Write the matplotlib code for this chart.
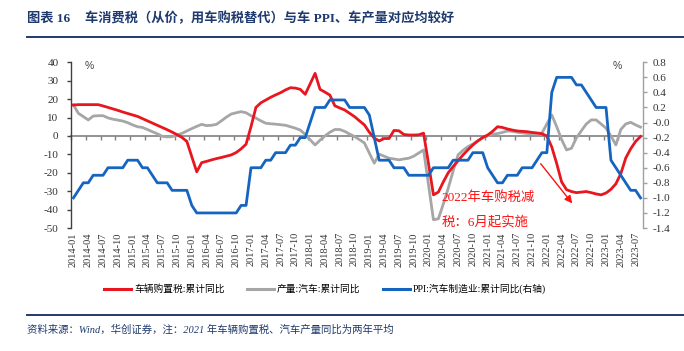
import matplotlib
matplotlib.use('Agg')
import matplotlib.pyplot as plt
from matplotlib.lines import Line2D
import numpy as np

plt.rcParams['font.family'] = ['Liberation Serif', 'Noto Sans CJK SC']
plt.rcParams['axes.unicode_minus'] = False

# ---------------- data ----------------
months = [f'{y}-{m:02d}' for y in range(2014, 2024) for m in range(1, 13)][:116]

purchase_tax = [
    16.8, 17.0, 17.0, 17.0, 17.0, 17.0, 16.3, 15.5, 14.7, 13.9, 13.0, 12.2,      # 2014
    11.4, 10.6, 9.4, 8.2, 7.0, 5.8, 4.6, 3.4, 2.1, 0.7, -0.8, -3.0,              # 2015
    -11.3, -19.5, -14.5, -13.8, -13.0, -12.3, -11.7, -11.0, -10.3, -9.0, -7.0, -4.5,  # 2016
    5.0, 15.5, 18.0, 19.5, 21.0, 22.3, 23.5, 25.0, 26.2, 26.0, 25.3, 22.6,      # 2017
    28.3, 34.0, 25.3, 23.8, 22.2, 16.4, 15.2, 14.1, 12.3, 10.5, 8.2, 6.0,       # 2018
    2.0, -1.2, -2.7, -1.4, -1.4, 3.0, 2.8, 0.8, 0.5, 0.5, 0.6, 1.5,             # 2019
    -15.0, -32.0, -30.5, -25.0, -20.0, -16.6, -13.5, -10.3, -7.5, -4.9, -2.7, -0.8,  # 2020
    0.5, 2.5, 5.0, 4.6, 3.8, 3.2, 2.7, 2.5, 2.3, 1.9, 1.6, 1.2,                 # 2021
    0.0, -6.0, -15.0, -25.0, -29.2, -30.2, -30.8, -30.5, -30.2, -30.8, -31.5, -32.0,  # 2022
    -31.0, -29.0, -26.0, -20.5, -12.0, -7.0, -3.0, -0.3,                        # 2023
]

production = [
    16.8, 12.3, 10.5, 8.7, 10.8, 11.0, 11.0, 9.8, 9.1, 8.6, 8.1, 7.2,           # 2014
    6.0, 5.0, 4.6, 3.5, 2.3, 1.2, -0.2, -0.5, -0.4, 0.5, 1.4, 2.7,              # 2015
    4.0, 5.2, 6.3, 5.6, 5.8, 6.3, 8.2, 10.2, 11.9, 12.6, 13.2, 12.6,            # 2016
    11.0, 9.7, 8.2, 6.9, 6.6, 6.4, 6.1, 5.8, 5.0, 4.2, 3.2, 0.8,                # 2017
    -2.1, -4.9, -2.3, 0.0, 2.0, 3.5, 3.5, 2.5, 1.0, -0.3, -2.0, -3.8,           # 2018
    -9.3, -14.8, -9.9, -11.0, -12.1, -12.5, -13.0, -12.5, -12.1, -11.0, -9.3, -7.6,  # 2019
    -26.5, -45.5, -45.0, -37.0, -28.4, -19.0, -10.3, -7.8, -5.8, -4.4, -2.7, -1.1,   # 2020
    0.0, 1.0, 1.3, 1.9, 2.7, 2.5, 2.0, 1.7, 1.3, 1.3, 1.4, 1.5,                 # 2021
    6.5, 11.4, 5.0, -2.0, -7.6, -6.7, -1.0, 2.8, 6.5, 8.7, 8.7, 6.5,            # 2022
    4.2, 0.0, -4.9, 3.5, 6.5, 7.4, 6.0, 4.8,                                    # 2023
]

ppi = [
    -1.0, -0.9, -0.8, -0.8, -0.7, -0.7, -0.7, -0.6, -0.6, -0.6, -0.6, -0.5,     # 2014
    -0.5, -0.5, -0.6, -0.6, -0.7, -0.8, -0.8, -0.8, -0.9, -0.9, -0.9, -0.9,     # 2015
    -1.1, -1.2, -1.2, -1.2, -1.2, -1.2, -1.2, -1.2, -1.2, -1.2, -1.1, -1.1,     # 2016
    -0.6, -0.6, -0.6, -0.5, -0.5, -0.4, -0.4, -0.4, -0.3, -0.3, -0.2, -0.2,     # 2017
    0.0, 0.2, 0.2, 0.2, 0.3, 0.3, 0.3, 0.3, 0.2, 0.2, 0.2, 0.2,                 # 2018
    0.1, -0.2, -0.5, -0.5, -0.5, -0.6, -0.6, -0.6, -0.7, -0.7, -0.7, -0.7,      # 2019
    -0.7, -0.6, -0.6, -0.6, -0.6, -0.5, -0.5, -0.5, -0.5, -0.4, -0.4, -0.4,     # 2020
    -0.6, -0.7, -0.8, -0.8, -0.7, -0.7, -0.7, -0.6, -0.6, -0.6, -0.5, -0.4,     # 2021
    -0.4, 0.4, 0.6, 0.6, 0.6, 0.6, 0.5, 0.5, 0.4, 0.3, 0.2, 0.2,                # 2022
    0.2, -0.5, -0.6, -0.7, -0.8, -0.9, -0.9, -1.0,                              # 2023
]

label_tax = '车辆购置税:累计同比'
label_prod = '产量:汽车:累计同比'
label_ppi = 'PPI:汽车制造业:累计同比(右轴)'

# ---------------- styling ----------------
RED = '#E8161F'
GRAY = '#A6A6A6'
BLUE = '#1565C0'
NAVY = '#1F3A6E'
AXIS_DARK = '#404040'
AXIS_GRAY = '#A0A0A0'

W, H = 684, 351
fig = plt.figure(figsize=(W / 100, H / 100), dpi=100)
ax = fig.add_axes([71 / W, 1 - 228 / H, (643 - 71) / W, (228 - 62.3) / H])

n = len(months)
x = np.arange(n) + 0.5

ax.plot(x, purchase_tax, color=RED, lw=2.0, zorder=3, solid_joinstyle='round')
ax.plot(x, production, color=GRAY, lw=2.0, zorder=2, solid_joinstyle='round')
ax.set_xlim(0, n)
ax.set_ylim(-50, 40)
ax.set_yticks(np.arange(-50, 41, 10))

# zero line with category tick marks
ax.spines['bottom'].set_position(('data', 0))
ax.spines['bottom'].set_color('#808080')
ax.spines['bottom'].set_linewidth(1.2)
ax.spines['bottom'].set_zorder(1)
ax.spines['top'].set_visible(False)
ax.spines['right'].set_visible(False)
ax.spines['left'].set_color(AXIS_DARK)
ax.spines['left'].set_linewidth(1.0)
ax.set_xticks(np.arange(0, n - 1, 3))
ax.tick_params(axis='x', direction='out', length=3, width=1, color='#808080', labelbottom=False)
ax.tick_params(axis='y', direction='out', length=3, width=1, color=AXIS_DARK, pad=6,
               labelsize=8, labelcolor='#333333')

# date labels at bottom
sec = ax.secondary_xaxis(0)
lab_idx = list(range(0, n - 1, 3))
sec.set_xticks([k + 0.5 for k in lab_idx], labels=[months[k] for k in lab_idx])
sec.tick_params(axis='x', length=0, pad=3, labelsize=7.5, labelcolor='#333333', labelrotation=90)
for s in sec.spines.values():
    s.set_visible(False)

ax2 = ax.twinx()
ax2.plot(x, ppi, color=BLUE, lw=2.0, zorder=3, solid_joinstyle='round')
ax2.set_ylim(-1.4, 0.8)
ax2.set_yticks(np.round(np.arange(-1.4, 0.81, 0.2), 1))
ax2.yaxis.set_major_formatter(matplotlib.ticker.FormatStrFormatter('%.1f'))
for sp in ['left', 'top', 'bottom']:
    ax2.spines[sp].set_visible(False)
ax2.spines['right'].set_color(AXIS_GRAY)
ax2.spines['right'].set_linewidth(1.0)
ax2.tick_params(axis='y', direction='out', length=3, width=1, color=AXIS_GRAY, pad=4,
                labelsize=8, labelcolor='#333333')

# % units
fig.text(89 / W, 1 - 66 / H, '%', ha='center', va='center', fontsize=7.5,
         family='Liberation Sans', color='#444444')
fig.text(617 / W, 1 - 66 / H, '%', ha='center', va='center', fontsize=7.5,
         family='Liberation Sans', color='#444444')

# annotation
ax.annotate('', xy=(102.0, -37.8), xytext=(94.9, -13.9),
            arrowprops=dict(arrowstyle='-|>', color='#FF1010', lw=1.0, mutation_scale=11))
ax.text(75.1, -33.6, '2022年车购税减', color='#FF1010', fontsize=9.6, ha='left', va='center')
ax.text(75.1, -46.5, '税：6月起实施', color='#FF1010', fontsize=9.6, ha='left', va='center')

# legend
handles = [Line2D([], [], color=RED, lw=2.2), Line2D([], [], color=GRAY, lw=2.2),
           Line2D([], [], color=BLUE, lw=2.2)]
fig.legend(handles, [label_tax, label_prod, label_ppi], loc='center',
           bbox_to_anchor=(325 / W, 1 - 289 / H), ncol=3, frameon=False, fontsize=7,
           handlelength=2.8, handletextpad=0.3, columnspacing=2.3)

# title and decorations
fig.text(27 / W, 1 - 18.5 / H, '图表 16', ha='left', va='center', fontsize=9.5,
         fontweight='bold', color=NAVY)
fig.text(85 / W, 1 - 18.5 / H, '车消费税（从价，用车购税替代）与车 PPI、车产量对应均较好',
         ha='left', va='center', fontsize=9.5, fontweight='bold', color=NAVY)
fig.add_artist(Line2D([27 / W, 1.0], [1 - 37 / H, 1 - 37 / H], transform=fig.transFigure,
                      color=NAVY, lw=1.4))
fig.add_artist(Line2D([27 / W, 1.0], [1 - 315 / H, 1 - 315 / H], transform=fig.transFigure,
                      color=NAVY, lw=1.4))
fig.text(27 / W, 1 - 330 / H, '资料来源：Wind，华创证券，注：2021 年车辆购置税、汽车产量同比为两年平均',
         ha='left', va='center', fontsize=7.5, style='italic', color=NAVY)

fig.savefig('out.png', dpi=100)
